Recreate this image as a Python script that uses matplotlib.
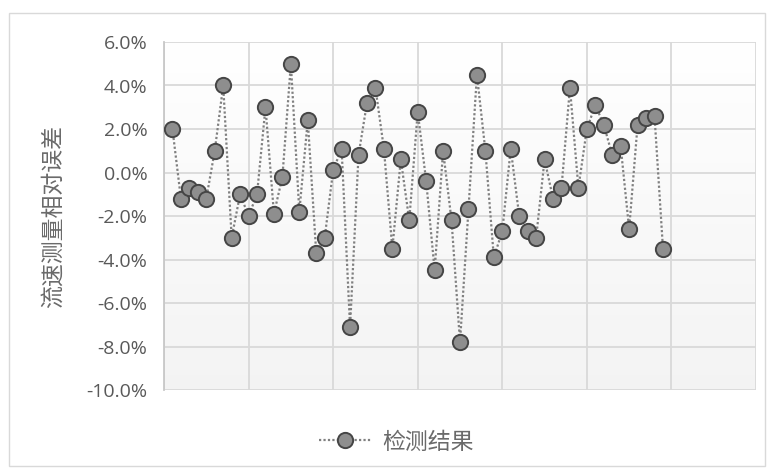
import numpy as np
import matplotlib
matplotlib.use("Agg")
import matplotlib.pyplot as plt
from matplotlib.patches import Rectangle
from matplotlib.ticker import FuncFormatter, MultipleLocator

plt.rcParams['font.family'] = ['Noto Sans CJK SC', 'DejaVu Sans']

# relative error of measured flow velocity for each test (percent)
sample_no = list(range(1, 60))
rel_error = [
    2.0, -1.2, -0.7, -0.9, -1.2, 1.0, 4.0, -3.0, -1.0, -2.0,
    -1.0, 3.0, -1.9, -0.2, 5.0, -1.8, 2.4, -3.7, -3.0, 0.1,
    1.1, -7.1, 0.8, 3.2, 3.9, 1.1, -3.5, 0.6, -2.2, 2.8,
    -0.4, -4.5, 1.0, -2.2, -7.8, -1.7, 4.5, 1.0, -3.9, -2.7,
    1.1, -2.0, -2.7, -3.0, 0.6, -1.2, -0.7, 3.9, -0.7, 2.0,
    3.1, 2.2, 0.8, 1.2, -2.6, 2.2, 2.5, 2.6, -3.5,
]
series_name = "检测结果"
y_label = "流速测量相对误差"

W, H, DPI = 774, 473, 100
fig = plt.figure(figsize=(W / DPI, H / DPI), dpi=DPI)
fig.patch.set_facecolor("white")

# chart-area border
fig.add_artist(Rectangle((9 / W, 1 - 466 / H), (765 - 9) / W, (466 - 13) / H,
                         transform=fig.transFigure, fill=False,
                         edgecolor="#d9d9d9", linewidth=1.0))

left, right, top, bottom = 164, 756, 42, 390
ax = fig.add_axes([left / W, 1 - bottom / H, (right - left) / W, (bottom - top) / H])

ax.set_xlim(0, 70)
ax.set_ylim(-10, 6)

# soft vertical shading of the plot area
grad = np.linspace(0, 1, 256).reshape(-1, 1)
shade = np.ones((256, 1, 3))
shade[:, 0, :] = (1.0 - 0.045 * grad)
ax.imshow(shade, extent=(0, 70, -10, 6), aspect="auto", origin="upper", zorder=0)

ax.xaxis.set_major_locator(MultipleLocator(10))
ax.yaxis.set_major_locator(MultipleLocator(2))
ax.grid(True, color="#d9d9d9", linewidth=1.3, zorder=1)
ax.set_axisbelow(True)
ax.tick_params(axis="x", length=0, labelbottom=False)
ax.tick_params(axis="y", length=0, pad=12, labelsize=14, labelcolor="#595959")
ax.yaxis.set_major_formatter(FuncFormatter(lambda v, p: f"{v:.1f}%"))
for s in ["top", "right", "bottom"]:
    ax.spines[s].set_visible(False)
ax.spines["left"].set_color("#c8c8c8")
ax.spines["left"].set_linewidth(1.3)

ax.plot(sample_no, rel_error, linestyle=(0, (1, 1)), color="#808080", linewidth=1.6,
        marker="o", markersize=11, markerfacecolor="#8e8e8e",
        markeredgecolor="#454545", markeredgewidth=1.4, zorder=3,
        label=series_name)

fig.text(53 / W, 1 - 216 / H, y_label, rotation=90, ha="center", va="center",
         fontsize=16.5, color="#6a6a6a", fontweight="light")

leg = fig.legend(loc="center", bbox_to_anchor=(396 / W, 1 - 442 / H), frameon=False,
                 fontsize=16.5, handlelength=2.3, handletextpad=0.45, labelcolor="#6a6a6a")
for t in leg.get_texts():
    t.set_fontweight("light")

for lab in ax.get_yticklabels():
    lab.set_fontfamily(["Open Sans", "DejaVu Sans"])

fig.savefig("out.png", dpi=DPI)
